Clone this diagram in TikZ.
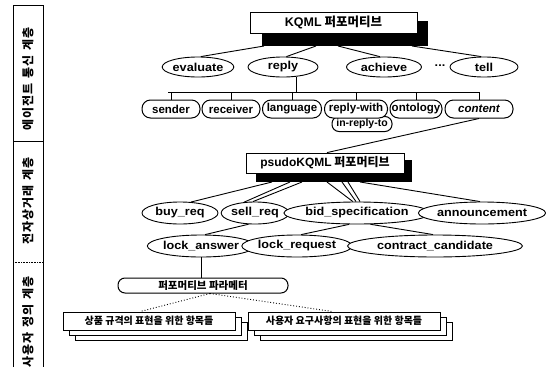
\documentclass[tikz,border=0pt]{standalone}
\usepackage{fontspec}
\setmainfont{Liberation Sans}
\newfontfamily\wide{Liberation Sans}[FakeStretch=1.1]
\newfontfamily\kr{Noto Sans CJK KR}
\newfontfamily\krspaced{Noto Sans CJK KR}[LetterSpace=8]
\usetikzlibrary{shapes.geometric,calc}
\newcommand\lblfont{\fontsize{11.5}{13}\selectfont\bfseries}
\newcommand\ellfont{\fontsize{11.5}{13}\selectfont\wide\bfseries}
\newcommand\krfont[1]{\fontsize{#1}{#1}\selectfont\kr\bfseries}
\tikzset{
  el/.style={ellipse, draw, line width=0.9pt, fill=white, inner sep=0pt, minimum height=20pt, font=\ellfont},
  pill/.style={draw, rounded corners=8.5pt, line width=1pt, fill=white, inner sep=0pt, minimum height=18pt, font=\lblfont},
  headbox/.style={draw, line width=0.8pt, fill=white, inner sep=0pt},
  shadowbox/.style={fill=black, draw=none, inner sep=0pt},
  itembox/.style={draw, line width=0.8pt, fill=white, inner sep=0pt, minimum height=18pt},
  layerline/.style={line width=0.6pt},
  layertext/.style={rotate=90, font=\fontsize{12}{12}\selectfont\krspaced\bfseries, inner sep=0pt},
  conn/.style={line width=0.9pt},
  dotconn/.style={line width=0.9pt, dotted}
}
\begin{document}
\begin{tikzpicture}[x=1pt,y=-1pt]
\useasboundingbox (0,0) rectangle (546,367);
% layer column
\draw[layerline] (13,367) -- (13,5) -- (43,5) -- (43,367);
\draw[layerline] (13,141) -- (43,141);
\draw[layerline, densely dotted] (13,262) -- (43,262);
\node[layertext] (lay1) at (28,79) {에이전트\hspace{0.45em}통신\hspace{0.45em}계층};
\node[layertext] (lay2) at (28,201) {전자상거래\hspace{0.35em}계층};
\node[layertext] (lay3) at (28,322) {사용자\hspace{0.4em}정의\hspace{0.4em}계층};

% KQML performative box
\node[shadowbox, minimum width=166pt, minimum height=25pt] (kshadow) at (345,33.5) {};
\node[headbox, minimum width=167pt, minimum height=21pt, font=\krfont{12.5}] (kqml) at (333.5,22.5) {{\rmfamily\bfseries KQML} 퍼포머티브};

% row 1
\node[el, minimum width=67pt] (evaluate) at (198,67) {evaluate};
\node[el, minimum width=70pt] (reply) at (283,67) {reply};
\node[el, minimum width=75pt] (achieve) at (384,67) {achieve};
\node[font=\ellfont] (dots) at (440,66) {...};
\node[el, minimum width=68pt] (tell) at (484,67) {tell};

\coordinate (k1) at (264,46);
\coordinate (k2) at (316,46);
\coordinate (k3) at (338,46);
\coordinate (k4) at (412,46);
\draw[conn] (k1) -- (evaluate.75);
\draw[conn] (k2) -- (reply.72);
\draw[conn] (k3) -- (achieve.112);
\draw[conn] (k4) -- (tell.105);

% parameter bar
\coordinate (barL) at (168,92);
\coordinate (barR) at (480,92);
\coordinate (rdrop) at (296,92);
\draw[conn] (rdrop |- reply.south) -- (rdrop);
\draw[conn] (barL) -- (barR);

% row 2 pills
\node[pill, minimum width=60pt, minimum height=15pt, rounded corners=7pt, font=\fontsize{10.5}{12}\selectfont\bfseries] (inreplyto) at (362,124) {in-reply-to};
\node[pill, minimum width=58pt] (sender) at (171,109) {sender};
\node[pill, minimum width=58pt] (receiver) at (231,109) {receiver};
\node[pill, minimum width=59pt] (language) at (292,109) {language};
\node[pill, minimum width=63pt] (replywith) at (356,109) {reply-with};
\node[pill, minimum width=52pt] (ontology) at (416,109) {ontology};
\node[pill, minimum width=68pt, font=\lblfont\itshape] (content) at (479,109) {content};
\foreach \n in {sender,receiver,language,replywith,ontology,content}
  \draw[conn] (\n.north) -- (\n.north |- barL);

% psudoKQML box
\node[shadowbox, minimum width=156pt, minimum height=22pt] (pshadow) at (334,171) {};
\node[headbox, minimum width=158pt, minimum height=20pt, font=\krfont{12}] (psudo) at (325,163) {{\rmfamily\bfseries psudoKQML} 퍼포머티브};
\draw[conn] (content.south) -- ($(psudo.north)+(2,0)$);

% row 3 ellipses
\node[el, minimum width=76pt, minimum height=22pt] (buyreq) at (180,213) {buy\_req};
\node[el, minimum width=65pt, minimum height=22pt] (sellreq) at (255,213) {sell\_req};
\node[el, minimum width=131pt, minimum height=22pt] (bidspec) at (357,213) {bid\_specification};
\node[el, minimum width=109pt, minimum height=22pt] (announce) at (482,213) {announcement};

\coordinate (p1) at (272,182);
\coordinate (p2) at (290,182);
\coordinate (p3) at (302,182);
\coordinate (p4) at (327,182);
\coordinate (p5) at (342,182);
\coordinate (p6) at (348,182);
\coordinate (p7) at (360,182);
\draw[conn] (p1) -- (buyreq.45);
\draw[conn] (p2) -- (sellreq.135);
\draw[conn] (p3) -- (sellreq.100);
\draw[conn] (p4) -- (bidspec.110);
\draw[conn] (p5) -- (bidspec.95);
\draw[conn] (p6) -- (bidspec.75);
\draw[conn] (p7) -- (announce.100);

% row 4 ellipses
\node[el, minimum width=97pt, minimum height=22pt] (lockanswer) at (201,246) {lock\_answer};
\node[el, minimum width=90pt, minimum height=22pt] (lockrequest) at (297,246) {lock\_request};
\node[el, minimum width=175pt, minimum height=22pt] (contract) at (435,246) {contract\_candidate};
\draw[conn] (sellreq.240) -- (lockanswer.70);
\draw[conn] (bidspec.235) -- (lockrequest.70);
\draw[conn] (bidspec.-40) -- (contract.100);

% performative parameter
\node[pill, minimum width=170pt, minimum height=15pt, rounded corners=7pt, font=\krfont{10.5}] (param) at (203,285.5) {퍼포머티브 파라메터};
\draw[conn] (lockanswer.south) -- (lockanswer.south |- param.north);

% item boxes (stacked)
\node[itembox, minimum width=172pt] (leftback2) at (161,331) {};
\node[itembox, minimum width=172pt] (leftback1) at (155,326) {};
\node[itembox, minimum width=172pt, font=\krfont{10}] (leftbox) at (149,321) {상품 규격의 표현을 위한 항목들};
\node[itembox, minimum width=192pt] (rightback2) at (356,331) {};
\node[itembox, minimum width=192pt] (rightback1) at (350,326) {};
\node[itembox, minimum width=192pt, font=\krfont{10}] (rightbox) at (344,321) {사용자 요구사항의 표현을 위한 항목들};
\draw[dotconn] ($(param.south)+(7,0)$) -- ($(leftbox.north)+(-9,0)$);
\draw[dotconn] ($(param.south)+(7,0)$) -- ($(rightbox.north)+(-11,0)$);
\end{tikzpicture}
\end{document}
